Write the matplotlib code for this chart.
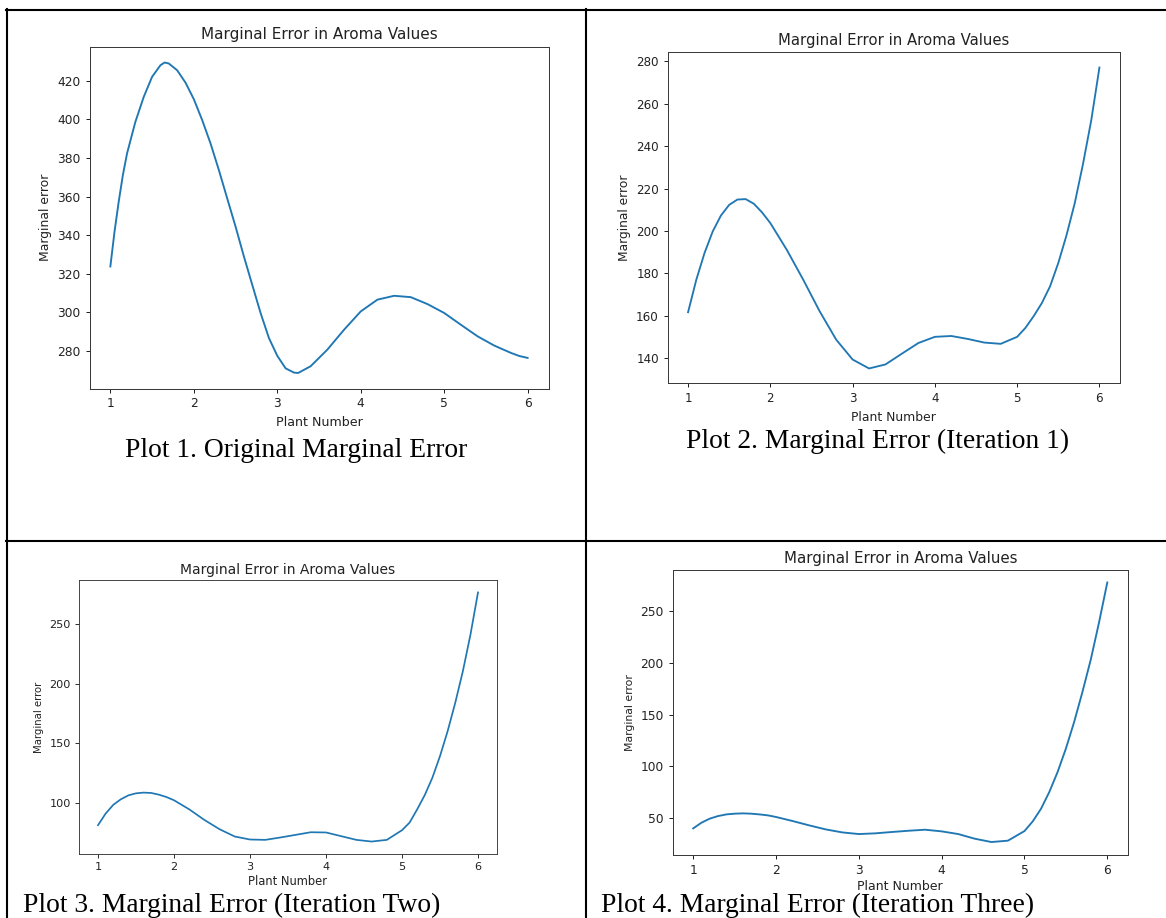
import matplotlib
matplotlib.use("Agg")
import matplotlib.pyplot as plt
from matplotlib.lines import Line2D

# ── Data (plant number vs marginal error) ──
plant_1 = [1.0, 1.05, 1.1, 1.15, 1.2, 1.3, 1.4, 1.5, 1.6, 1.65, 1.7, 1.8, 1.9,
           2.0, 2.1, 2.2, 2.3, 2.4, 2.5, 2.6, 2.7, 2.8, 2.9, 3.0, 3.1, 3.2,
           3.25, 3.4, 3.6, 3.8, 4.0, 4.2, 4.4, 4.6, 4.8, 5.0, 5.2, 5.4, 5.6,
           5.8, 5.9, 6.0]
err_original = [323.8, 341.9, 357.4, 371.2, 382.4, 398.8, 411.7, 422.1, 428.1,
                 429.5, 429.0, 425.5, 419.1, 410.5, 399.7, 387.6, 373.8, 359.1,
                 344.5, 329.0, 314.3, 299.7, 286.7, 277.5, 271.0, 268.8, 268.6,
                 272.1, 280.7, 291.0, 300.5, 306.6, 308.6, 307.9, 304.3, 299.7,
                 293.6, 287.6, 282.8, 279.0, 277.4, 276.4]

# iterations share one x grid (denser where the curves shoot up)
plant_it = [1.0, 1.1, 1.2, 1.3, 1.4, 1.5, 1.6, 1.7, 1.8, 1.9, 2.0, 2.2, 2.4,
            2.6, 2.8, 3.0, 3.2, 3.4, 3.6, 3.8, 4.0, 4.2, 4.4, 4.6, 4.8, 5.0,
            5.1, 5.2, 5.3, 5.4, 5.5, 5.6, 5.7, 5.8, 5.9, 6.0]

err_iter1 = [161.7, 177.0, 189.6, 199.8, 207.3, 212.3, 214.8, 215.0, 212.8,
             208.7, 203.7, 191.1, 177.0, 162.1, 148.8, 139.4, 135.2, 137.1,
             142.2, 147.2, 150.1, 150.5, 149.1, 147.4, 146.8, 150.1, 154.3,
             159.8, 166.0, 173.9, 184.9, 198.0, 213.1, 231.5, 252.0, 277.0]

err_iter2 = [81.4, 91.1, 98.4, 103.1, 106.4, 108.1, 108.7, 108.4, 107.0,
             105.0, 102.3, 94.7, 85.8, 78.0, 71.9, 69.4, 69.1, 71.1,
             73.3, 75.5, 75.3, 72.2, 69.1, 67.7, 69.1, 77.2, 83.6,
             94.7, 106.7, 121.2, 139.3, 160.1, 183.8, 210.2, 240.8, 276.4]

err_iter3 = [40.0, 45.5, 49.4, 51.9, 53.5, 54.2, 54.5, 54.2, 53.5,
             52.6, 51.0, 47.1, 42.9, 39.0, 36.1, 34.5, 35.2, 36.5,
             37.7, 38.7, 37.1, 34.5, 30.0, 26.8, 28.1, 37.4, 46.8,
             59.0, 75.2, 94.5, 117.1, 142.9, 171.9, 203.0, 239.0, 277.7]

xs = [plant_1, plant_it, plant_it, plant_it]
series = [err_original, err_iter1, err_iter2, err_iter3]
captions = ["Plot 1. Original Marginal Error",
            "Plot 2. Marginal Error (Iteration 1)",
            "Plot 3. Marginal Error (Iteration Two)",
            "Plot 4. Marginal Error (Iteration Three)"]

W, H = 1166, 918
fig = plt.figure(figsize=(W / 100, H / 100), dpi=100)
fig.patch.set_facecolor("white")

# each screenshot panel: axes box in px (left, right, top, bottom), text sizes,
# title centre y, caption (x, baseline y, ha)
panels = [
    dict(box=(89.5, 548.5, 47, 388.5), title=11.0, lab=9.1, ylab=8.9, tick=8.8,
         title_y=34.5, cap=(296, 457, "center"), xpad=None),
    dict(box=(667.5, 1120, 52.5, 383.5), title=10.75, lab=8.9, ylab=8.8, tick=8.6,
         title_y=41, cap=(878, 448, "center"), xpad=None),
    dict(box=(79, 497, 580, 854), title=10.0, lab=8.3, ylab=7.3, tick=8.1,
         title_y=570, cap=(23, 912, "left"), xpad=2.0),
    dict(box=(672.5, 1128, 569.5, 855), title=10.8, lab=9.0, ylab=7.8, tick=8.8,
         title_y=559, cap=(601, 912, "left"), xpad=2.0),
]

for p, x, vals, cap in zip(panels, xs, series, captions):
    l, r, t, b = p["box"]
    ax = fig.add_axes([l / W, 1 - b / H, (r - l) / W, (b - t) / H])
    s = p["lab"] / 10.0
    ax.plot(x, vals, color="#1f77b4", lw=1.5 * s, solid_joinstyle="round")
    ax.set_xticks([1, 2, 3, 4, 5, 6])
    ax.tick_params(labelsize=p["tick"], length=3.5 * s, width=0.8 * s,
                   pad=3.5 * s, colors="#222222")
    for sp in ax.spines.values():
        sp.set_linewidth(0.8 * s)
        sp.set_color("#3a3a3a")
    kw = {} if p["xpad"] is None else {"labelpad": p["xpad"]}
    ax.set_xlabel("Plant Number", fontsize=p["lab"], color="#222222", **kw)
    ax.set_ylabel("Marginal error", fontsize=p["ylab"], color="#222222")
    fig.text((l + r) / 2 / W, 1 - p["title_y"] / H, "Marginal Error in Aroma Values",
             ha="center", va="center", fontsize=p["title"], color="#222222")
    cx, cy, ha = p["cap"]
    fig.text(cx / W, 1 - cy / H, cap, ha=ha, va="baseline",
             family="Liberation Serif", fontsize=19.8, color="black")

# table borders around the four screenshots
lw = 1.5
def hline(y, x0, x1):
    fig.add_artist(Line2D([x0 / W, x1 / W], [1 - y / H, 1 - y / H], color="black", lw=lw))

def vline(x, y0, y1):
    fig.add_artist(Line2D([x / W, x / W], [1 - y0 / H, 1 - y1 / H], color="black", lw=lw))

hline(9.5, 6, W)
hline(541, 6, W)
vline(7, 9, H)
vline(585.5, 9, H)

fig.savefig("out.png", dpi=100, facecolor="white")
